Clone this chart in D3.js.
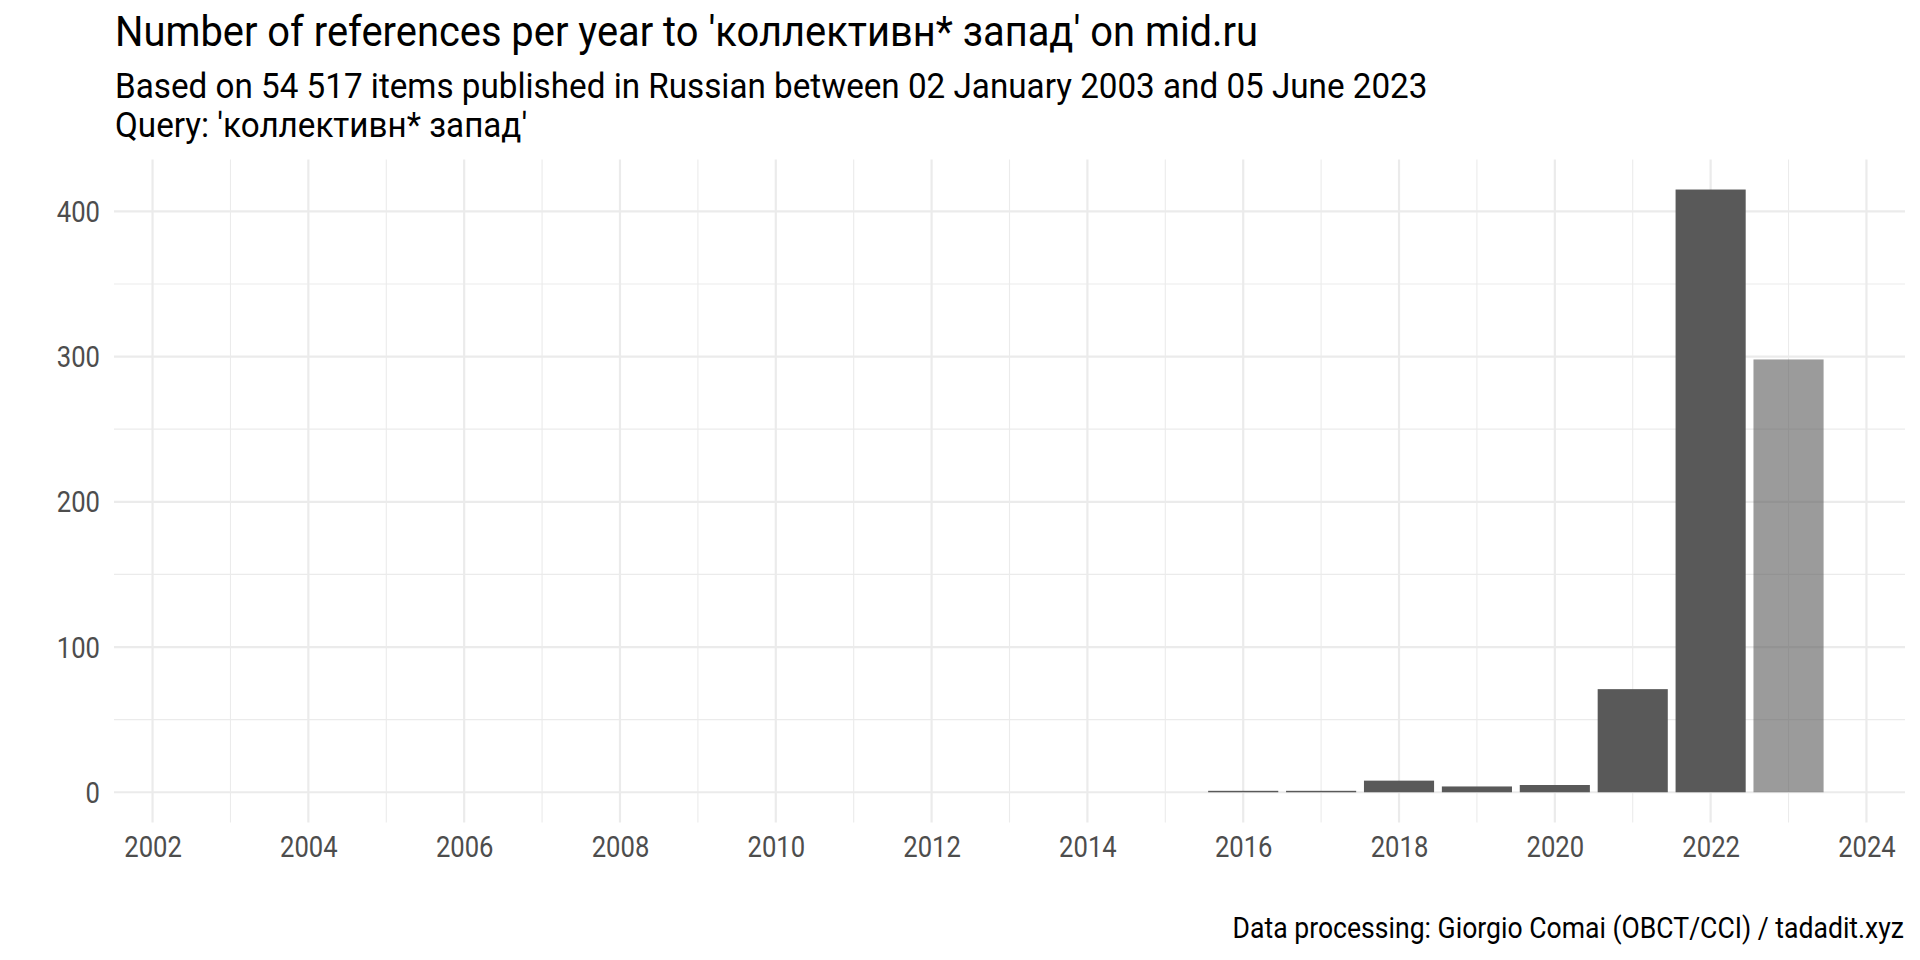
<!DOCTYPE html>
<html><head><meta charset="utf-8">
<script src="https://cdn.jsdelivr.net/npm/d3@7"></script>
<style>body{margin:0;background:#fff} svg text{font-family:Roboto,"Noto Sans",sans-serif}</style>
</head><body>
<svg id="c" width="1920" height="960"></svg>
<script>
const years  = [2003,2004,2005,2006,2007,2008,2009,2010,2011,2012,2013,2014,2015,2016,2017,2018,2019,2020,2021,2022,2023];
const counts = [0,0,0,0,0,0,0,0,0,0,0,0,0,1,1,8,4,5,71,415,298];
const partialYears = [2023];
const xTickLabels = [2002,2004,2006,2008,2010,2012,2014,2016,2018,2020,2022,2024];
const yTickLabels = [0,100,200,300,400];
const titleText = "Number of references per year to 'коллективн* запад' on mid.ru";
const subtitleLines = ["Based on 54 517 items published in Russian between 02 January 2003 and 05 June 2023", "Query: 'коллективн* запад'"];
const captionText = "Data processing: Giorgio Comai (OBCT/CCI) / tadadit.xyz";

const COND = 0.923, COND_AX = 0.89;
const svg = d3.select('#c');
const P = {left:114, right:1905, top:159.4, bottom:822.4};

const yMax = d3.max(counts), yExt = yMax*0.05;
const y = d3.scaleLinear().domain([-yExt, yMax+yExt]).range([P.bottom, P.top]);
const x0 = d3.min(years)-0.45, x1 = d3.max(years)+0.45, xExt=(x1-x0)*0.05;
const x = d3.scaleLinear().domain([x0-xExt, x1+xExt]).range([P.left, P.right]);
const barW = x(0.9)-x(0);

// grids
const g = svg.append('g');
const minorY = d3.range(50, yMax+yExt, 100);
const minorX = d3.range(2003, 2024, 2);
g.selectAll('.mny').data(minorY).join('line')
  .attr('x1',P.left).attr('x2',P.right).attr('y1',d=>y(d)).attr('y2',d=>y(d))
  .attr('stroke','#ebebeb').attr('stroke-width',1.1);
g.selectAll('.mnx').data(minorX).join('line')
  .attr('y1',P.top).attr('y2',P.bottom).attr('x1',d=>x(d)).attr('x2',d=>x(d))
  .attr('stroke','#ebebeb').attr('stroke-width',1.1);
g.selectAll('.mjy').data(yTickLabels).join('line')
  .attr('x1',P.left).attr('x2',P.right).attr('y1',d=>y(d)).attr('y2',d=>y(d))
  .attr('stroke','#ebebeb').attr('stroke-width',2.2);
g.selectAll('.mjx').data(xTickLabels).join('line')
  .attr('y1',P.top).attr('y2',P.bottom).attr('x1',d=>x(d)).attr('x2',d=>x(d))
  .attr('stroke','#ebebeb').attr('stroke-width',2.2);

// bars
const data = years.map((yr,i)=>({yr, v:counts[i]}));
svg.append('g').selectAll('rect').data(data).join('rect')
  .attr('x', d=>x(d.yr)-barW/2).attr('width', barW)
  .attr('y', d=>y(d.v)).attr('height', d=>y(0)-y(d.v))
  .attr('fill','#595959')
  .attr('fill-opacity', d=>partialYears.includes(d.yr)?0.6:1);

// axes
const ax = svg.append('g').attr('transform',`translate(0,${P.bottom})`)
  .call(d3.axisBottom(x).tickValues(xTickLabels).tickFormat(d3.format('d')).tickSize(0).tickPadding(0));
ax.select('.domain').remove();
ax.selectAll('text').attr('y',0).attr('dy',0)
  .attr('transform',`translate(0,35) scale(${COND_AX},1)`)
  .attr('font-size',28.8).attr('fill','#4d4d4d').attr('font-family','Roboto');

const ay = svg.append('g').attr('transform',`translate(${P.left},0)`)
  .call(d3.axisLeft(y).tickValues(yTickLabels).tickFormat(d3.format('d')).tickSize(0).tickPadding(0));
ay.select('.domain').remove();
ay.selectAll('text').attr('x',0).attr('dy',0)
  .attr('transform',`translate(-14,10.2) scale(${COND_AX},1)`)
  .attr('font-size',28.8).attr('fill','#4d4d4d').attr('font-family','Roboto');

function ctext(txt, xx, yy, size, anchor){
  return svg.append('text').text(txt)
    .attr('transform',`translate(${xx},${yy}) scale(${COND},1)`)
    .attr('font-size',size).attr('fill','#000').attr('text-anchor',anchor||'start');
}
ctext(titleText, 115, 46, 43.2);
ctext(subtitleLines[0], 115, 98, 36);
ctext(subtitleLines[1], 115, 137, 36);
ctext(captionText, 1904, 938, 28.8, 'end');
</script>
</body></html>
